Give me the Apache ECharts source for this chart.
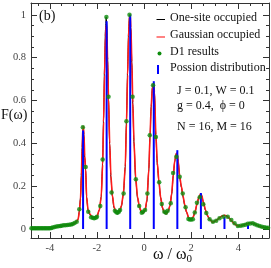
<!DOCTYPE html>
<html><head><meta charset="utf-8">
<script src="https://cdn.jsdelivr.net/npm/echarts@6/dist/echarts.min.js"></script>
<style>html,body{margin:0;padding:0;background:#fff}#c{width:271px;height:268px}</style>
</head><body><div id="c"></div>
<script>
const curveX = [
 -4.8,-4.5,-4.2,-4.0,-3.8,-3.6,-3.4,-3.2,-3.0,-2.9,
 -2.8,-2.75,-2.7,-2.66,-2.63,-2.6,-2.58,-2.55,-2.52,-2.48,
 -2.44,-2.38,-2.3,-2.2,-2.1,-2.0,-1.9,-1.82,-1.76,-1.72,
 -1.68,-1.64,-1.61,-1.58,-1.55,-1.51,-1.46,-1.41,-1.35,-1.28,
 -1.2,-1.12,-1.04,-0.96,-0.88,-0.8,-0.75,-0.7,-0.66,-0.62,
 -0.59,-0.56,-0.52,-0.48,-0.43,-0.36,-0.28,-0.2,-0.12,-0.04,
 0.04,0.12,0.2,0.25,0.3,0.35,0.4,0.44,0.5,0.56,
 0.63,0.7,0.78,0.86,0.94,1.02,1.1,1.17,1.24,1.3,
 1.36,1.4,1.45,1.51,1.58,1.65,1.72,1.8,1.9,2.0,
 2.08,2.16,2.24,2.32,2.39,2.44,2.52,2.6,2.68,2.78,
 2.9,3.0,3.1,3.2,3.3,3.4,3.5,3.6,3.7,3.8,
 3.9,4.0,4.1,4.2,4.3,4.4,4.5,4.6,4.7,4.8,
 4.9,5.0,5.1,5.3];
const gaussY = [
 .004,.004,.003,.004,.008,.013,.017,.019,.024,.03,
 .045,.08,.14,.25,.38,.47,.48,.44,.34,.28,
 .15,.09,.07,.055,.052,.06,.09,.15,.3,.5,
 .72,.9,.95,.92,.79,.61,.4,.25,.16,.105,
 .08,.075,.085,.11,.165,.29,.49,.72,.9,.99,
 1.0,.94,.78,.59,.41,.24,.15,.105,.08,.076,
 .088,.135,.28,.43,.57,.66,.68,.64,.44,.31,
 .22,.15,.1,.076,.072,.085,.11,.165,.255,.32,
 .352,.355,.315,.245,.2,.155,.115,.08,.05,.047,
 .056,.08,.115,.148,.163,.158,.125,.09,.065,.045,
 .032,.035,.043,.052,.06,.064,.061,.052,.04,.028,
 .018,.014,.015,.018,.022,.026,.028,.027,.023,.017,
 .012,.009,.007,.006];
const oneSiteY = [
 .004,.004,.003,.004,.008,.013,.017,.019,.024,.03,
 .045,.082,.145,.26,.38,.46,.465,.43,.33,.27,
 .145,.088,.066,.052,.05,.058,.088,.15,.31,.52,
 .75,.93,.99,.95,.8,.6,.39,.24,.155,.1,
 .076,.07,.08,.107,.162,.29,.5,.74,.92,1.0,
 1.0,.93,.77,.58,.4,.235,.145,.1,.076,.072,
 .085,.13,.275,.43,.57,.66,.675,.63,.43,.3,
 .215,.145,.097,.073,.07,.082,.108,.162,.25,.315,
 .345,.348,.31,.24,.195,.15,.112,.078,.048,.045,
 .054,.078,.113,.145,.16,.155,.123,.088,.063,.044,
 .032,.035,.043,.052,.06,.064,.061,.052,.04,.028,
 .018,.014,.015,.018,.022,.026,.028,.027,.023,.017,
 .012,.009,.007,.006];
const d1X = [
 -4.78,-4.72,-4.66,-4.6,-4.54,-4.48,-4.42,-4.36,-4.3,-4.24,
 -4.18,-4.12,-4.06,-4.0,-3.94,-3.88,-3.8,-3.72,-3.64,-3.56,
 -3.5,-3.42,-3.34,-3.26,-3.18,-3.1,-3.03,-2.95,-2.86,-2.75,
 -2.6,-2.48,-2.37,-2.25,-2.18,-2.12,-2.05,-2.0,-1.86,-1.76,
 -1.6,-1.51,-1.38,-1.24,-1.18,-1.13,-1.07,-1.02,-0.87,-0.75,
 -0.62,-0.49,-0.35,-0.21,-0.1,-0.05,0.04,0.14,0.24,0.38,
 0.5,0.64,0.75,0.86,0.93,1.0,1.13,1.23,1.37,1.51,
 1.64,1.76,1.88,1.94,2.0,2.07,2.15,2.24,2.36,2.51,
 2.64,2.78,2.92,3.06,3.2,3.37,3.55,3.7,3.84,3.98,
 4.1,4.2,4.3,4.4,4.5,4.61,4.7,4.8,4.9,5.0,
 5.1,5.18,5.26];
const d1Y = [
 .003,.003,.003,.004,.003,.003,.003,.003,.003,.003,
 .003,.003,.003,.004,.005,.007,.009,.012,.013,.014,
 .015,.017,.018,.019,.02,.021,.023,.028,.034,.092,
 .475,.29,.081,.055,.053,.05,.052,.057,.107,.325,
 .99,.617,.17,.085,.078,.076,.08,.089,.166,.503,
 1.0,.617,.232,.107,.076,.081,.089,.166,.438,.671,
 .43,.218,.117,.08,.076,.085,.12,.262,.337,.244,
 .166,.102,.047,.044,.044,.046,.077,.122,.148,.115,
 .075,.045,.034,.039,.05,.057,.057,.042,.027,.014,
 .015,.018,.02,.024,.026,.027,.022,.018,.014,.01,
 .008,.006,.006];
const poissonX = [-2.59,-1.59,-0.59,0.41,1.41,2.41,3.41,4.41];
const poissonY = [0.46,0.97,1.0,0.69,0.368,0.168,0.057,0.019];
const xMajor = [-4,-2,0,2,4];
const xMinor = [-4.5,-3.5,-3,-2.5,-1.5,-1,-0.5,0.5,1,1.5,2.5,3,3.5,4.5,5];
const yMajor = [0,0.2,0.4,0.6,0.8,1];
const yMinor = [0.05,0.1,0.15,0.25,0.3,0.35,0.45,0.5,0.55,0.65,0.7,0.75,0.85,0.9,0.95];

const XMIN=-4.8, XMAX=5.3, YMIN=-0.042, YMAX=1.055;
const FONT='Liberation Serif';
const AX='#333';
function ax(kind, pos, ticks, len, label, line){
  const o = {type:'value', position:pos, min: kind==='x'?XMIN:YMIN, max: kind==='x'?XMAX:YMAX,
    splitLine:{show:false},
    axisLine:{show:line, onZero:false, lineStyle:{color:AX, width:1}},
    axisTick:{show:true, inside:true, length:len, customValues:ticks, lineStyle:{color:AX, width:1}},
    axisLabel:{show:label, customValues:ticks, fontFamily:FONT, fontSize:10.5, color:'#444', margin:5}
  };
  return o;
}
const chart = echarts.init(document.getElementById('c'), null, {renderer:'canvas'});
const grid = {left:31, right:2, top:3, bottom:30};
chart.setOption({
  animation:false,
  grid:grid,
  xAxis:[ax('x','bottom',xMajor,6,true,true), ax('x','bottom',xMinor,3,false,false),
         ax('x','top',xMajor,6,false,true), ax('x','top',xMinor,3,false,false)],
  yAxis:[ax('y','left',yMajor,6,true,true), ax('y','left',yMinor,3,false,false),
         ax('y','right',yMajor,6,false,true), ax('y','right',yMinor,3,false,false)],
  series:[
    {type:'line', name:'One-site occupied', data:curveX.map((x,i)=>[x,oneSiteY[i]]), symbol:'none',
     smooth:0.25, smoothMonotone:'x', lineStyle:{color:'#000', width:1}, z:2},
    {type:'line', name:'Gaussian occupied', data:curveX.map((x,i)=>[x,gaussY[i]]), symbol:'none',
     smooth:0.25, smoothMonotone:'x', lineStyle:{color:'#ff1a1a', width:1.6}, z:3},
    {type:'bar', name:'Possion distribution', data:poissonX.map((x,i)=>[x,poissonY[i]]), barWidth:2,
     itemStyle:{color:'#0000ff'}, z:4},
    {type:'scatter', name:'D1 results', data:d1X.map((x,i)=>[x,d1Y[i]]), symbolSize:4.5,
     itemStyle:{color:'#0d8c0d'}, z:5}
  ],
  graphic:[
    {type:'text', left:39, top:9, style:{text:'(b)', font:'14px "Liberation Serif"', fill:'#111'}},
    {type:'text', left:1, top:108, style:{text:'F(ω)', font:'14px "Liberation Serif"', fill:'#111'}},
    {type:'text', left:153, top:247, style:{text:'{a|ω / ω}{b|0}', fill:'#111',
      rich:{a:{font:'16px "Liberation Serif"', fill:'#111'}, b:{font:'11px "Liberation Serif"', fill:'#111', padding:[9,0,0,0]}}}},
    {type:'line', shape:{x1:156.5,y1:19.5,x2:165,y2:19.5}, style:{stroke:'#000', lineWidth:1}},
    {type:'line', shape:{x1:156.5,y1:37,x2:165,y2:37}, style:{stroke:'#ff5a5a', lineWidth:1.5}},
    {type:'circle', shape:{cx:159.5, cy:53.5, r:2}, style:{fill:'#0d8c0d'}},
    {type:'rect', shape:{x:157, y:65, width:2, height:9}, style:{fill:'#0000ff'}},
    {type:'text', left:170, top:12, style:{text:'One-site occupied', font:'12px "Liberation Serif"', fill:'#111'}},
    {type:'text', left:170, top:29, style:{text:'Gaussian occupied', font:'12px "Liberation Serif"', fill:'#111'}},
    {type:'text', left:170, top:46, style:{text:'D1 results', font:'12px "Liberation Serif"', fill:'#111'}},
    {type:'text', left:170, top:62, style:{text:'Possion distribution', font:'12px "Liberation Serif"', fill:'#111'}},
    {type:'text', left:177, top:85, style:{text:'J = 0.1, W = 0.1', font:'12px "Liberation Serif"', fill:'#111'}},
    {type:'text', left:177, top:100, style:{text:'g = 0.4,  ϕ = 0', font:'12px "Liberation Serif"', fill:'#111'}},
    {type:'text', left:177, top:121, style:{text:'N = 16, M = 16', font:'12px "Liberation Serif"', fill:'#111'}}
  ]
});
</script></body></html>
